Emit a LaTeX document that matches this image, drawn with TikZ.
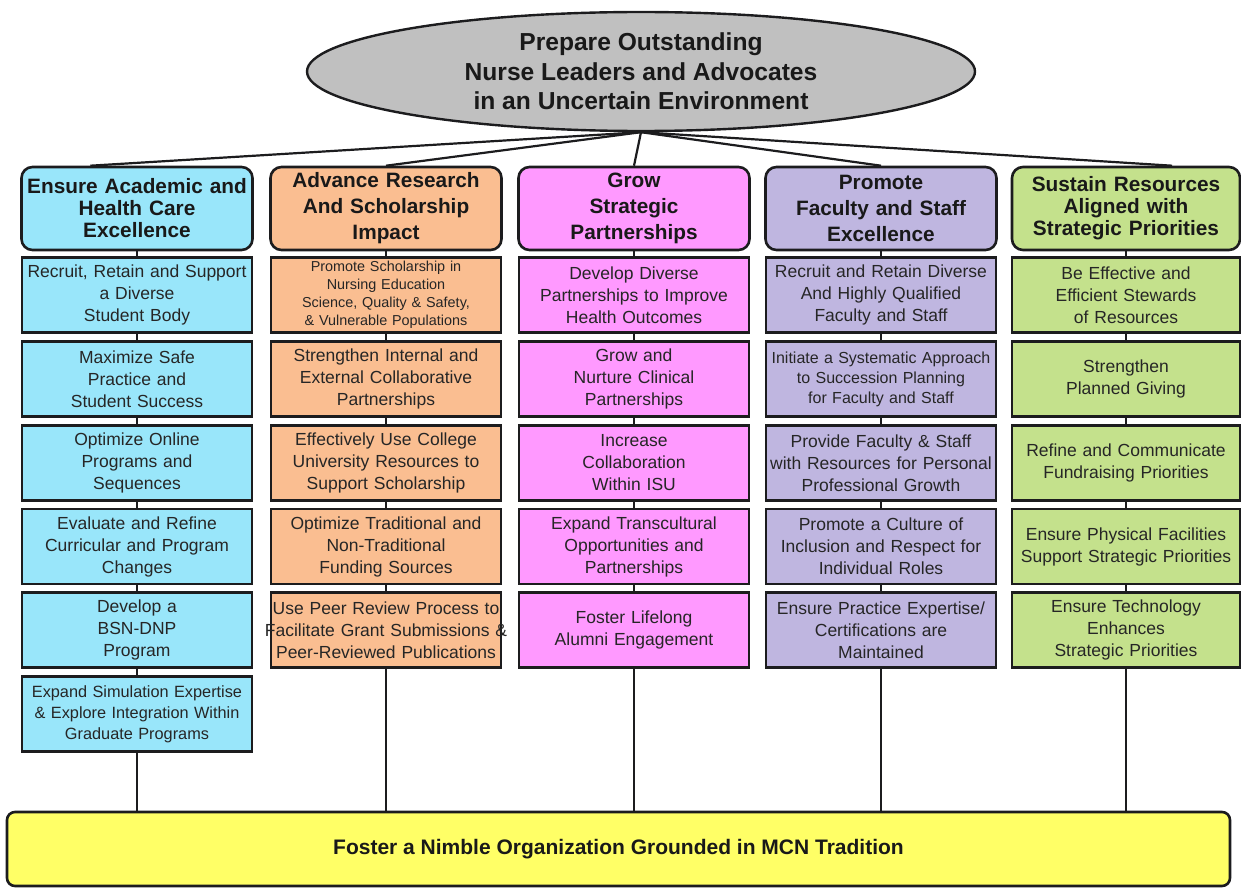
\documentclass[tikz,border=0pt]{standalone}
\usepackage{fontspec}
\setmainfont{Liberation Sans}
\usetikzlibrary{calc,shapes.geometric}

\definecolor{edge}{RGB}{28,28,30}
\definecolor{visiongray}{RGB}{192,192,192}
\definecolor{acadblue}{RGB}{153,230,250}
\definecolor{researchpeach}{RGB}{250,190,145}
\definecolor{partnerpink}{RGB}{255,153,255}
\definecolor{facultylilac}{RGB}{191,182,224}
\definecolor{resourcegreen}{RGB}{196,225,140}
\definecolor{baseyellow}{RGB}{255,255,102}

\begin{document}
\begin{tikzpicture}[x=1pt,y=-1pt,
  head/.style={draw=edge,line width=2.6pt,rounded corners=11pt,minimum height=83pt,
    inner sep=0pt,text width=231pt,align=center,text=black!90,
    font=\bfseries\fontsize{20.8}{22}\selectfont},
  wide/.style={font=\bfseries\fontsize{20.8}{26}\selectfont},
  obj/.style={draw=edge,line width=2.8pt,minimum height=75pt,inner sep=0pt,
    text width=230pt,align=center,text=black!85,font=\fontsize{17.5}{22}\selectfont},
  link/.style={edge,line width=2.2pt},
  foot/.style={edge,line width=1.5pt}]
\useasboundingbox (0,0) rectangle (1241,888);

% top and bottom
\node[ellipse,draw=edge,line width=2.4pt,fill=visiongray,minimum width=668pt,minimum height=119pt,
  inner sep=0pt,align=center,text=black!90,font=\bfseries\fontsize{24.6}{29.5}\selectfont]
  (vision) at (641,71.5) {Prepare Outstanding\\Nurse Leaders and Advocates\\in an Uncertain Environment};
\node[draw=edge,line width=2.6pt,rounded corners=8pt,fill=baseyellow,minimum width=1223pt,minimum height=74pt,
  inner sep=0pt,text=black!90,font=\bfseries\fontsize{21}{24}\selectfont]
  (base) at (618.5,849) {Foster a Nimble Organization Grounded in MCN Tradition};

% column 1
\node[head,fill=acadblue] (head1) at (137,208.5) {Ensure Academic and\\Health Care\\Excellence};
\node[obj,fill=acadblue] (o1-1) at (137,295) {Recruit, Retain and Support\\a Diverse\\Student Body};
\node[obj,fill=acadblue] (o1-2) at (137,379) {Maximize Safe\\Practice and\\Student Success};
\node[obj,fill=acadblue] (o1-3) at (137,463) {Optimize Online\\Programs and\\Sequences};
\node[obj,fill=acadblue] (o1-4) at (137,546.5) {Evaluate and Refine\\Curricular and Program\\Changes};
\node[obj,fill=acadblue] (o1-5) at (137,630) {Develop a\\BSN-DNP\\Program};
\node[obj,fill=acadblue,font=\fontsize{16.3}{21}\selectfont] (o1-6) at (137,714)
  {Expand Simulation Expertise\\\& Explore Integration Within\\Graduate Programs};

% column 2
\node[head,wide,fill=researchpeach] (head2) at (386,208.5) {Advance Research\\And Scholarship\\Impact};
\node[obj,fill=researchpeach,font=\fontsize{14.4}{18}\selectfont] (o2-1) at (386,295)
  {Promote Scholarship in\\Nursing Education\\Science, Quality \& Safety,\\\& Vulnerable Populations};
\node[obj,fill=researchpeach] (o2-2) at (386,379) {Strengthen Internal and\\External Collaborative\\Partnerships};
\node[obj,fill=researchpeach] (o2-3) at (386,463) {Effectively Use College\\University Resources to\\Support Scholarship};
\node[obj,fill=researchpeach] (o2-4) at (386,546.5) {Optimize Traditional and\\Non-Traditional\\Funding Sources};
\node[obj,fill=researchpeach] (o2-5) at (386,630)
  {Use Peer Review Process to\\\makebox[\linewidth]{Facilitate Grant Submissions \&}\\Peer-Reviewed Publications};

% column 3
\node[head,wide,fill=partnerpink] (head3) at (634,208.5) {Grow\\Strategic\\Partnerships};
\node[obj,fill=partnerpink] (o3-1) at (634,295) {Develop Diverse\\Partnerships to Improve\\Health Outcomes};
\node[obj,fill=partnerpink] (o3-2) at (634,379) {Grow and\\Nurture Clinical\\Partnerships};
\node[obj,fill=partnerpink] (o3-3) at (634,463) {Increase\\Collaboration\\Within ISU};
\node[obj,fill=partnerpink] (o3-4) at (634,546.5) {Expand Transcultural\\Opportunities and\\Partnerships};
\node[obj,fill=partnerpink] (o3-5) at (634,630) {Foster Lifelong\\Alumni Engagement};

% column 4
\node[head,wide,fill=facultylilac] (head4) at (881,208.5) {Promote\\Faculty and Staff\\Excellence};
\node[obj,fill=facultylilac] (o4-1) at (881,295) {Recruit and Retain Diverse\\And Highly Qualified\\Faculty and Staff};
\node[obj,fill=facultylilac,font=\fontsize{16}{20}\selectfont] (o4-2) at (881,379)
  {Initiate a Systematic Approach\\to Succession Planning\\for Faculty and Staff};
\node[obj,fill=facultylilac] (o4-3) at (881,463) {Provide Faculty \& Staff\\with Resources for Personal\\Professional Growth};
\node[obj,fill=facultylilac] (o4-4) at (881,546.5) {Promote a Culture of\\Inclusion and Respect for\\Individual Roles};
\node[obj,fill=facultylilac] (o4-5) at (881,630) {Ensure Practice Expertise/\\Certifications are\\Maintained};

% column 5
\node[head,fill=resourcegreen,text width=228pt] (head5) at (1126,208.5) {Sustain Resources\\Aligned with\\Strategic Priorities};
\node[obj,fill=resourcegreen,text width=228pt] (o5-1) at (1126,295) {Be Effective and\\Efficient Stewards\\of Resources};
\node[obj,fill=resourcegreen,text width=228pt] (o5-2) at (1126,379) {Strengthen\\Planned Giving};
\node[obj,fill=resourcegreen,text width=228pt] (o5-3) at (1126,463) {Refine and Communicate\\Fundraising Priorities};
\node[obj,fill=resourcegreen,text width=228pt] (o5-4) at (1126,546.5) {Ensure Physical Facilities\\Support Strategic Priorities};
\node[obj,fill=resourcegreen,text width=228pt] (o5-5) at (1126,630) {Ensure Technology\\Enhances\\Strategic Priorities};

% vision to the five goals
\draw[link] (vision.south) -- ($(head1.north)!0.4!(head1.north west)$);
\draw[link] (vision.south) -- (head2.north);
\draw[link] (vision.south) -- (head3.north);
\draw[link] (vision.south) -- (head4.north);
\draw[link] (vision.south) -- ($(head5.north)!0.4!(head5.north east)$);

% columns down to the base
\foreach \col/\last in {1/6,2/5,3/5,4/5,5/5}{
  \draw[link] (head\col.south) -- (o\col-1.north);
  \foreach \row in {2,...,\last}{
    \pgfmathtruncatemacro\up{\row-1}
    \draw[link] (o\col-\up.south) -- (o\col-\row.north);
  }
  \draw[foot] (o\col-\last.south) -- (o\col-\last.south |- base.north);
}
\end{tikzpicture}
\end{document}
